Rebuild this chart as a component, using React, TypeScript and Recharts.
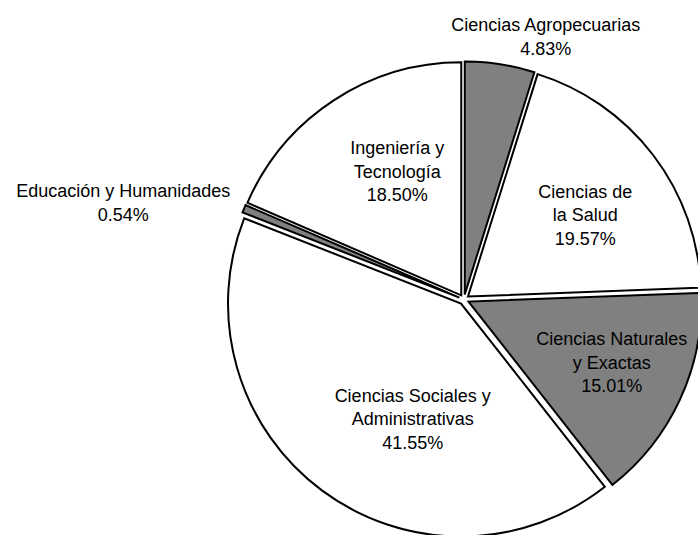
import { Cell, Pie, PieChart } from 'recharts'

// one entry per slice, clockwise from 12 o'clock
const AREAS = [
  'Ciencias Agropecuarias',
  'Ciencias de\nla Salud',
  'Ciencias Naturales\ny Exactas',
  'Ciencias Sociales y\nAdministrativas',
  'Educación y Humanidades',
  'Ingeniería y\nTecnología',
]
const SHARES = [4.83, 19.57, 15.01, 41.55, 0.54, 18.5]
const FILLS = ['#808080', '#ffffff', '#808080', '#ffffff', '#808080', '#ffffff']

// where each label sits: fraction of the radius along the slice's mid angle, plus a small turn (deg, counterclockwise)
const LABEL_RADIUS = [1.18, 0.634, 0.69, 0.56, 1.52, 0.618]
const LABEL_TURN = [-8.6, -2.5, 1.6, 13.5, 6.6, -5.7]

const W = 698
const H = 535
const CX = 464
const CY = 299.5
const R = 233
const EXPLODE = 5
const RAD = Math.PI / 180
const FONT = '"Liberation Sans", Arial, sans-serif'

const data = AREAS.map((name, i) => ({ name, value: SHARES[i] }))
const total = SHARES.reduce((a, b) => a + b, 0)

// mid angle of slice i in recharts degrees (ccw from 3 o'clock)
function midAngle(i: number) {
  const before = SHARES.slice(0, i).reduce((a, b) => a + b, 0)
  const mid = before + SHARES[i] / 2
  return 90 - (mid / total) * 360
}

function renderLabel(props: any) {
  const { cx, cy, outerRadius, midAngle: mid, index, value } = props
  const ang = (mid + LABEL_TURN[index]) * RAD
  const r = outerRadius * LABEL_RADIUS[index]
  const x = cx + r * Math.cos(ang)
  const y = cy - r * Math.sin(ang)
  const lines = [...AREAS[index].split('\n'), `${value.toFixed(2)}%`]
  const lh = 23.5
  return (
    <text
      key={`lbl-${index}`}
      x={x}
      y={y}
      textAnchor="middle"
      dominantBaseline="central"
      fontFamily={FONT}
      fontSize={18}
      fill="#000"
    >
      {lines.map((t, k) => (
        <tspan key={k} x={x} y={y + (k - (lines.length - 1) / 2) * lh}>
          {t}
        </tspan>
      ))}
    </text>
  )
}

export default function App() {
  return (
    <div style={{ position: 'absolute', left: 0, top: 0, width: W, height: H, background: '#fff' }}>
      <PieChart width={W} height={H} margin={{ top: 0, right: 0, bottom: 0, left: 0 }}>
        {data.map((d, i) => {
          const a = midAngle(i) * RAD
          return (
            <Pie
              key={d.name}
              data={data}
              dataKey="value"
              nameKey="name"
              cx={CX + EXPLODE * Math.cos(a)}
              cy={CY - EXPLODE * Math.sin(a)}
              outerRadius={R}
              startAngle={90}
              endAngle={-270}
              isAnimationActive={false}
              label={false}
              labelLine={false}
            >
              {data.map((_, j) => (
                <Cell
                  key={j}
                  fill={j === i ? FILLS[j] : 'none'}
                  stroke={j === i ? '#000' : 'none'}
                  strokeWidth={2}
                />
              ))}
            </Pie>
          )
        })}
        <Pie
          data={data}
          dataKey="value"
          nameKey="name"
          cx={CX}
          cy={CY}
          outerRadius={R}
          startAngle={90}
          endAngle={-270}
          isAnimationActive={false}
          fill="none"
          stroke="none"
          label={renderLabel}
          labelLine={false}
        />
      </PieChart>
    </div>
  )
}
